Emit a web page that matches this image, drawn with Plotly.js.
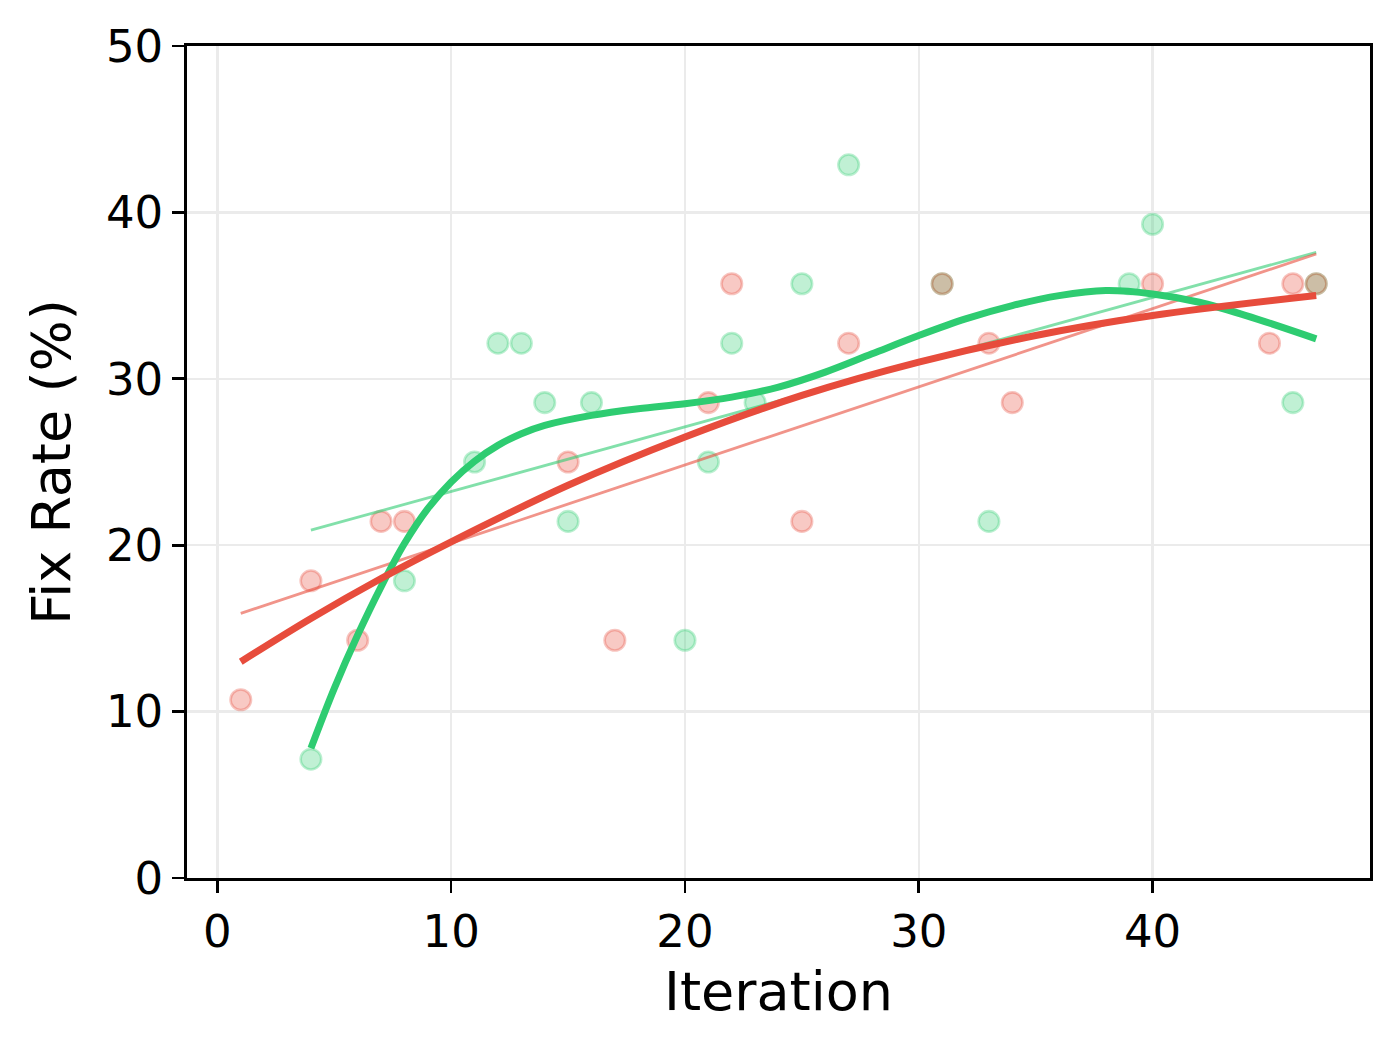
<!DOCTYPE html>
<html>
<head>
<meta charset="utf-8">
<script src="https://cdn.plot.ly/plotly-3.0.1.min.js"></script>
<style>
  html, body { margin: 0; padding: 0; background: #fff; }
  #chart { width: 1400px; height: 1050px; }
</style>
</head>
<body>
<div id="chart"></div>
<script>
// scatter points (fix rate in %)
const redIter = [1, 4, 6, 7, 8, 15, 17, 21, 22, 25, 27, 31, 33, 34, 40, 45, 46, 47];
const redRate = [10.71, 17.86, 14.29, 21.43, 21.43, 25.0, 14.29, 28.57, 35.71, 21.43,
                 32.14, 35.71, 32.14, 28.57, 35.71, 32.14, 35.71, 35.71];

const greenIter = [4, 8, 11, 12, 13, 14, 15, 16, 20, 21, 22, 23, 25, 27, 31, 33, 39, 40, 46, 47];
const greenRate = [7.14, 17.86, 25.0, 32.14, 32.14, 28.57, 21.43, 28.57, 14.29, 25.0,
                   32.14, 28.57, 35.71, 42.86, 35.71, 21.43, 35.71, 39.29, 28.57, 35.71];

// straight trend lines (end points)
const redTrendX = [1, 47];
const redTrendY = [15.9, 37.5];
const greenTrendX = [4, 47];
const greenTrendY = [20.9, 37.6];

// smooth curves
const redCurveX = [1, 4, 7, 10, 15, 20, 25, 30, 35, 40, 47];
const redCurveY = [13.0, 15.6, 18.0, 20.2, 23.6, 26.5, 29.0, 31.0, 32.6, 33.8, 35.0];
const greenCurveX = [4, 5, 6, 7, 8, 9, 10, 11, 12, 13, 14, 16, 18, 20, 22, 24, 26, 28, 30, 32, 34, 36, 38, 40, 42, 44, 47];
const greenCurveY = [7.8, 11.4, 14.6, 17.5, 20.1, 22.2, 23.8, 25.05, 26.0, 26.7, 27.2, 27.8, 28.2, 28.5,
                     28.9, 29.5, 30.4, 31.5, 32.6, 33.6, 34.4, 35.0, 35.3, 35.1, 34.6, 33.8, 32.4];

const xTicks = [0, 10, 20, 30, 40];
const yTicks = [0, 10, 20, 30, 40, 50];

const RED = '231,76,60';
const GREEN = '46,204,113';

function dots(x, y, rgb) {
  return {
    x: x, y: y, type: 'scatter', mode: 'markers', hoverinfo: 'skip',
    marker: { size: 20.5, color: `rgba(${rgb},0.3)`, line: { color: `rgba(${rgb},0.32)`, width: 2.6 } }
  };
}

function line(x, y, rgb, alpha, width, shape) {
  return {
    x: x, y: y, type: 'scatter', mode: 'lines', hoverinfo: 'skip',
    line: { color: `rgba(${rgb},${alpha})`, width: width, shape: shape || 'linear', smoothing: 1 }
  };
}

const data = [
  dots(greenIter, greenRate, GREEN),
  dots(redIter, redRate, RED),
  line(greenTrendX, greenTrendY, GREEN, 0.6, 2.8),
  line(redTrendX, redTrendY, RED, 0.6, 2.8),
  line(greenCurveX, greenCurveY, GREEN, 1, 7, 'spline'),
  line(redCurveX, redCurveY, RED, 1, 7, 'spline')
];

const axisCommon = {
  showgrid: true, gridcolor: '#ebebeb', gridwidth: 2.5,
  showline: true, linecolor: '#000', linewidth: 2.8, mirror: true,
  ticks: 'outside', ticklen: 12, tickwidth: 2.6, tickcolor: '#000',
  zeroline: false, automargin: false,
  tickfont: { family: 'DejaVu Sans', size: 45, color: '#000' }
};

const layout = {
  width: 1400, height: 1050,
  margin: { l: 187, r: 30, t: 46, b: 172 },
  paper_bgcolor: '#fff', plot_bgcolor: '#fff',
  showlegend: false,
  font: { family: 'DejaVu Sans', color: '#000' },
  xaxis: Object.assign({}, axisCommon, {
    range: [-1.3, 49.3], tickmode: 'array', tickvals: xTicks,
    title: { text: 'Iteration', font: { family: 'DejaVu Sans', size: 54, color: '#000' }, standoff: 16 }
  }),
  yaxis: Object.assign({}, axisCommon, {
    range: [0, 50], tickmode: 'array', tickvals: yTicks,
    title: { text: 'Fix Rate (%)', font: { family: 'DejaVu Sans', size: 54, color: '#000' }, standoff: 18 }
  })
};

Plotly.newPlot('chart', data, layout, { staticPlot: true });
</script>
</body>
</html>
